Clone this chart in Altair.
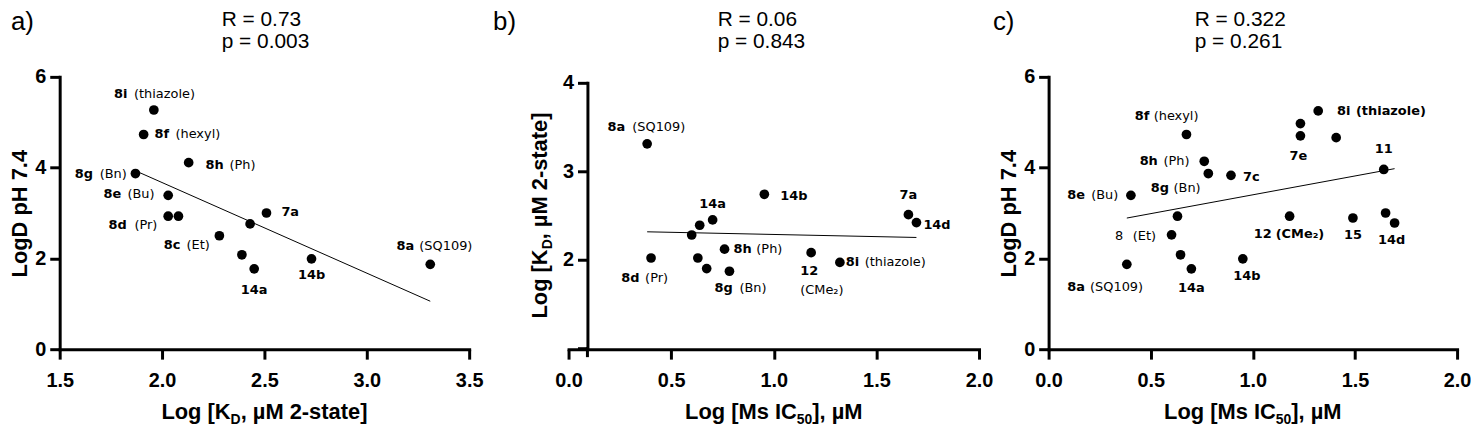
import altair as alt
import pandas as pd

# ---------------- data ----------------
# Panel a: x = Log[KD, uM 2-state], y = LogD pH 7.4
a_x = [1.96, 1.91, 2.13, 1.87, 2.03, 2.51, 2.03, 2.08, 2.43, 2.28, 2.39, 2.45, 2.73, 3.31]
a_y = [5.27, 4.73, 4.11, 3.87, 3.39, 3.00, 2.93, 2.93, 2.76, 2.50, 2.08, 1.77, 1.99, 1.87]
a_code = ["8i", "8f", "8h", "8g", "8e", "7a", "8d", "", "", "8c", "", "14a", "14b", "8a"]
a_note = ["(thiazole)", "(hexyl)", "(Ph)", "(Bn)", "(Bu)", "", "(Pr)", "", "", "(Et)", "", "", "", "(SQ109)"]
a_stats = ["R = 0.73", "p = 0.003"]

# Panel b: x = Log[Ms IC50], y = Log[KD, uM 2-state]
b_x = [0.383, 0.954, 1.656, 1.695, 0.702, 0.639, 0.600, 0.760, 0.402, 0.630, 0.673, 0.784, 1.182, 1.322]
b_y = [3.31, 2.74, 2.51, 2.42, 2.45, 2.39, 2.28, 2.12, 2.02, 2.02, 1.90, 1.87, 2.08, 1.97]
b_code = ["8a", "14b", "7a", "14d", "14a", "", "", "8h", "8d", "", "", "8g", "12", "8i"]
b_note = ["(SQ109)", "", "", "", "", "", "", "(Ph)", "(Pr)", "", "", "(Bn)", "(CMe₂)", "(thiazole)"]
b_stats = ["R = 0.06", "p = 0.843"]

# Panel c: x = Log[Ms IC50], y = LogD pH 7.4
c_x = [0.675, 1.320, 1.233, 1.233, 1.408, 0.762, 0.782, 0.893, 1.641, 0.403, 0.631, 1.180,
       1.490, 1.650, 1.694, 0.602, 0.646, 0.699, 0.951, 0.383]
c_y = [4.73, 5.25, 4.97, 4.70, 4.66, 4.14, 3.87, 3.83, 3.96, 3.39, 2.93, 2.93,
       2.89, 3.00, 2.78, 2.52, 2.08, 1.77, 1.99, 1.87]
c_code = ["8f", "8i", "", "7e", "", "8h", "8g", "7c", "11", "8e", "", "12",
          "15", "", "14d", "8", "", "14a", "14b", "8a"]
c_note = ["(hexyl)", "(thiazole)", "", "", "", "(Ph)", "(Bn)", "", "", "(Bu)", "", "(CMe₂)",
          "", "", "", "(Et)", "", "", "", "(SQ109)"]
c_stats = ["R = 0.322", "p = 0.261"]

# ---------------- label layout (pixel offsets from each point) ----------------
# index: (align of code, code dx, code dy, note dx, note dy)
a_lab = {0: ("left", -40, -16, -20, -16), 1: ("left", 11, 0, 32, 0), 2: ("left", 17, 2, 41, 2),
         3: ("left", -61, 0, -36, 0), 4: ("left", -65, -1, -41, -1), 5: ("left", 15, -1, 0, 0),
         6: ("left", -60, 9, -34, 9), 9: ("left", -56, 9, -33, 9), 11: ("center", 0, 21, 0, 0),
         12: ("center", 0, 16, 0, 0), 13: ("left", -34, -18, -11, -18)}
b_lab = {0: ("left", -40, -17, -15, -17), 1: ("left", 16, 2, 0, 0), 2: ("center", 0, -20, 0, 0),
         3: ("left", 7, 2, 0, 0), 4: ("center", 0, -16, 0, 0), 7: ("left", 9, 0, 32, 0),
         8: ("left", -30, 20, -6, 20), 11: ("left", -15, 17, 10, 17), 12: ("left", -11, 18, -11, 38),
         13: ("left", 6, 0, 25, 0)}
c_lab = {0: ("left", -52, -19, -33, -19), 1: ("left", 19, 0, 38, 0), 3: ("center", -2, 20, 0, 0),
         5: ("left", -65, 0, -41, 0), 6: ("left", -58, 15, -35, 15), 7: ("left", 12, 2, 0, 0),
         8: ("center", 0, -21, 0, 0), 9: ("left", -64, 0, -40, 0), 11: ("left", -36, 18, -14, 18),
         12: ("center", 0, 17, 0, 0), 14: ("center", -3, 17, 0, 0), 15: ("left", -57, 1, -39, 1),
         17: ("center", 0, 19, 0, 0), 18: ("center", 4, 17, 0, 0), 19: ("left", -60, 23, -37, 23)}

AXF = "Liberation Sans"
LBF = "DejaVu Sans"
LBS = 13

# Arial-bold advance widths (em) for the axis-title pieces
BW = {"L": .611, "o": .611, "g": .611, " ": .278, "[": .333, "K": .722, "D": .722, ",": .278,
      "µ": .576, "M": .833, "2": .556, "-": .333, "s": .556, "t": .333, "a": .556, "e": .556,
      "]": .333, "I": .278, "C": .722, "5": .556, "0": .556}


def tw(s, size):
    return sum(BW.get(ch, .556) for ch in s) * size


def txt(s, x, y, size, weight="normal", align="left", angle=0, font=AXF):
    return alt.Chart(pd.DataFrame({"t": [s]})).mark_text(
        font=font, fontSize=size, fontWeight=weight, align=align, baseline="alphabetic",
        angle=angle, color="black").encode(x=alt.value(x), y=alt.value(y), text="t:N")


def sub_title(parts, cx, base, rotated=False, size=22, ssize=14, shift=5):
    """parts: list of (text, is_sub). Horizontal (x title) or rotated 270 (y title)."""
    widths = [tw(t, ssize if s else size) for t, s in parts]
    total = sum(widths)
    layers = []
    pos = -total / 2
    for (t, s), w in zip(parts, widths):
        fs = ssize if s else size
        if rotated:
            layers.append(txt(t, base + (shift if s else 0), cx - pos, fs, "bold", "left", 270))
        else:
            layers.append(txt(t, cx + pos, base + (shift if s else 0), fs, "bold", "left"))
        pos += w
    return layers


def panel(xs, ys, codes, notes, lab, stats, letter, letter_x, stats_x,
          xdom, xticks, ydom, yticks, width, xr, yr, xtitle, ytitle, ytitle_x,
          ytitle_rot_parts=False, yoffset=0, hide_first=False,
          bold_notes=(), regular_codes=(), extra=()):
    height = 274
    df = pd.DataFrame({"x": xs, "y": ys})
    sx = (xr[1] - xr[0]) / (xdom[1] - xdom[0])
    sy = (yr[0] - yr[1]) / (ydom[1] - ydom[0])
    rows = []
    for i, (al, cdx, cdy, ndx, ndy) in lab.items():
        if codes[i]:
            rows.append(dict(lx=xs[i] + cdx / sx, ly=ys[i] - cdy / sy, t=codes[i],
                             w="normal" if i in regular_codes else "bold", a=al))
        if notes[i]:
            rows.append(dict(lx=xs[i] + ndx / sx, ly=ys[i] - ndy / sy, t=notes[i],
                             w="bold" if i in bold_notes else "normal", a="left"))
    labdf = pd.DataFrame(rows)

    xs_ = alt.Scale(domain=xdom, range=xr, nice=False, zero=False)
    ys_ = alt.Scale(domain=ydom, range=yr, nice=False, zero=False)
    xaxis = alt.Axis(values=xticks, format=".1f", title=None, labelFlush=False)
    yargs = dict(values=yticks, format="d", title=None, labelFlush=False, offset=yoffset)
    if hide_first:
        yargs["labelExpr"] = "datum.value == %g ? '' : datum.label" % ydom[0]
    yaxis = alt.Axis(**yargs)

    def X(f):
        return alt.X(f, scale=xs_, axis=xaxis)

    def Y(f):
        return alt.Y(f, scale=ys_, axis=yaxis)

    layers = []
    layers.append(alt.Chart(df).mark_line(color="black", strokeWidth=1)
                  .transform_regression("x", "y").encode(x=X("x:Q"), y=Y("y:Q")))
    layers.append(alt.Chart(df).mark_circle(size=95, color="black", opacity=1)
                  .encode(x=X("x:Q"), y=Y("y:Q")))
    for w in ["bold", "normal"]:
        for al in ["left", "center"]:
            sub = labdf[(labdf.w == w) & (labdf.a == al)]
            if len(sub) == 0:
                continue
            layers.append(alt.Chart(sub).mark_text(font=LBF, fontSize=LBS, fontWeight=w,
                                                   align=al, baseline="middle", color="black")
                          .encode(x=X("lx:Q"), y=Y("ly:Q"), text="t:N"))
    # panel letter and statistics
    layers.append(txt(letter, letter_x, -47, 26))
    layers.append(txt(stats[0], stats_x, -51, 21))
    layers.append(txt(stats[1], stats_x, -29, 21))
    # axis titles
    layers += sub_title(xtitle, (xr[0] + xr[1]) / 2, 344)
    layers += sub_title(ytitle, (yr[0] + yr[1]) / 2 if ytitle_rot_parts else height / 2,
                        ytitle_x, rotated=True)
    layers += list(extra)
    return alt.layer(*layers).properties(width=width, height=height)


kd_title = [("Log [K", False), ("D", True), (", µM 2-state]", False)]
ic_title = [("Log [Ms IC", False), ("50", True), ("], µM", False)]
logd_title = [("LogD pH 7.4", False)]

pa = panel(a_x, a_y, a_code, a_note, a_lab, a_stats, "a)", -49, 163,
           [1.5, 3.5], [1.5, 2.0, 2.5, 3.0, 3.5], [0, 6], [0, 2, 4, 6],
           412, [0, 412], [274, 0], kd_title, logd_title, -33)

b_ext = alt.Chart(pd.DataFrame({"v": [0]})).mark_rule(color="black", strokeWidth=3).encode(
    x=alt.value(49), y=alt.value(272), y2=alt.value(282))
pb = panel(b_x, b_y, b_code, b_note, b_lab, b_stats, "b)", -46, 180,
           [0, 2], [0.0, 0.5, 1.0, 1.5, 2.0], [1, 4], [1, 2, 3, 4],
           443, [30, 443], [273, 6], ic_title, kd_title, 8,
           ytitle_rot_parts=True, yoffset=-49, hide_first=True, extra=[b_ext])

pc = panel(c_x, c_y, c_code, c_note, c_lab, c_stats, "c)", -56, 147,
           [0, 2], [0.0, 0.5, 1.0, 1.5, 2.0], [0, 6], [0, 2, 4, 6],
           411, [0, 411], [274, 0], ic_title, logd_title, -33,
           bold_notes=(1, 11), regular_codes=(15,))

chart = (alt.hconcat(pa, pb, pc, spacing=70, bounds="flush")
         .properties(padding=0)
         .configure_view(stroke=None)
         .configure_axis(domainColor="black", domainWidth=3, domainCap="square",
                         tickColor="black", tickWidth=3, tickSize=10,
                         labelFont=AXF, labelFontSize=20, labelFontWeight="bold",
                         labelColor="black", grid=False)
         .configure_axisX(labelPadding=12)
         .configure_axisY(labelPadding=4))

chart.save("out.html", embed_options={"renderer": "svg", "actions": False})
